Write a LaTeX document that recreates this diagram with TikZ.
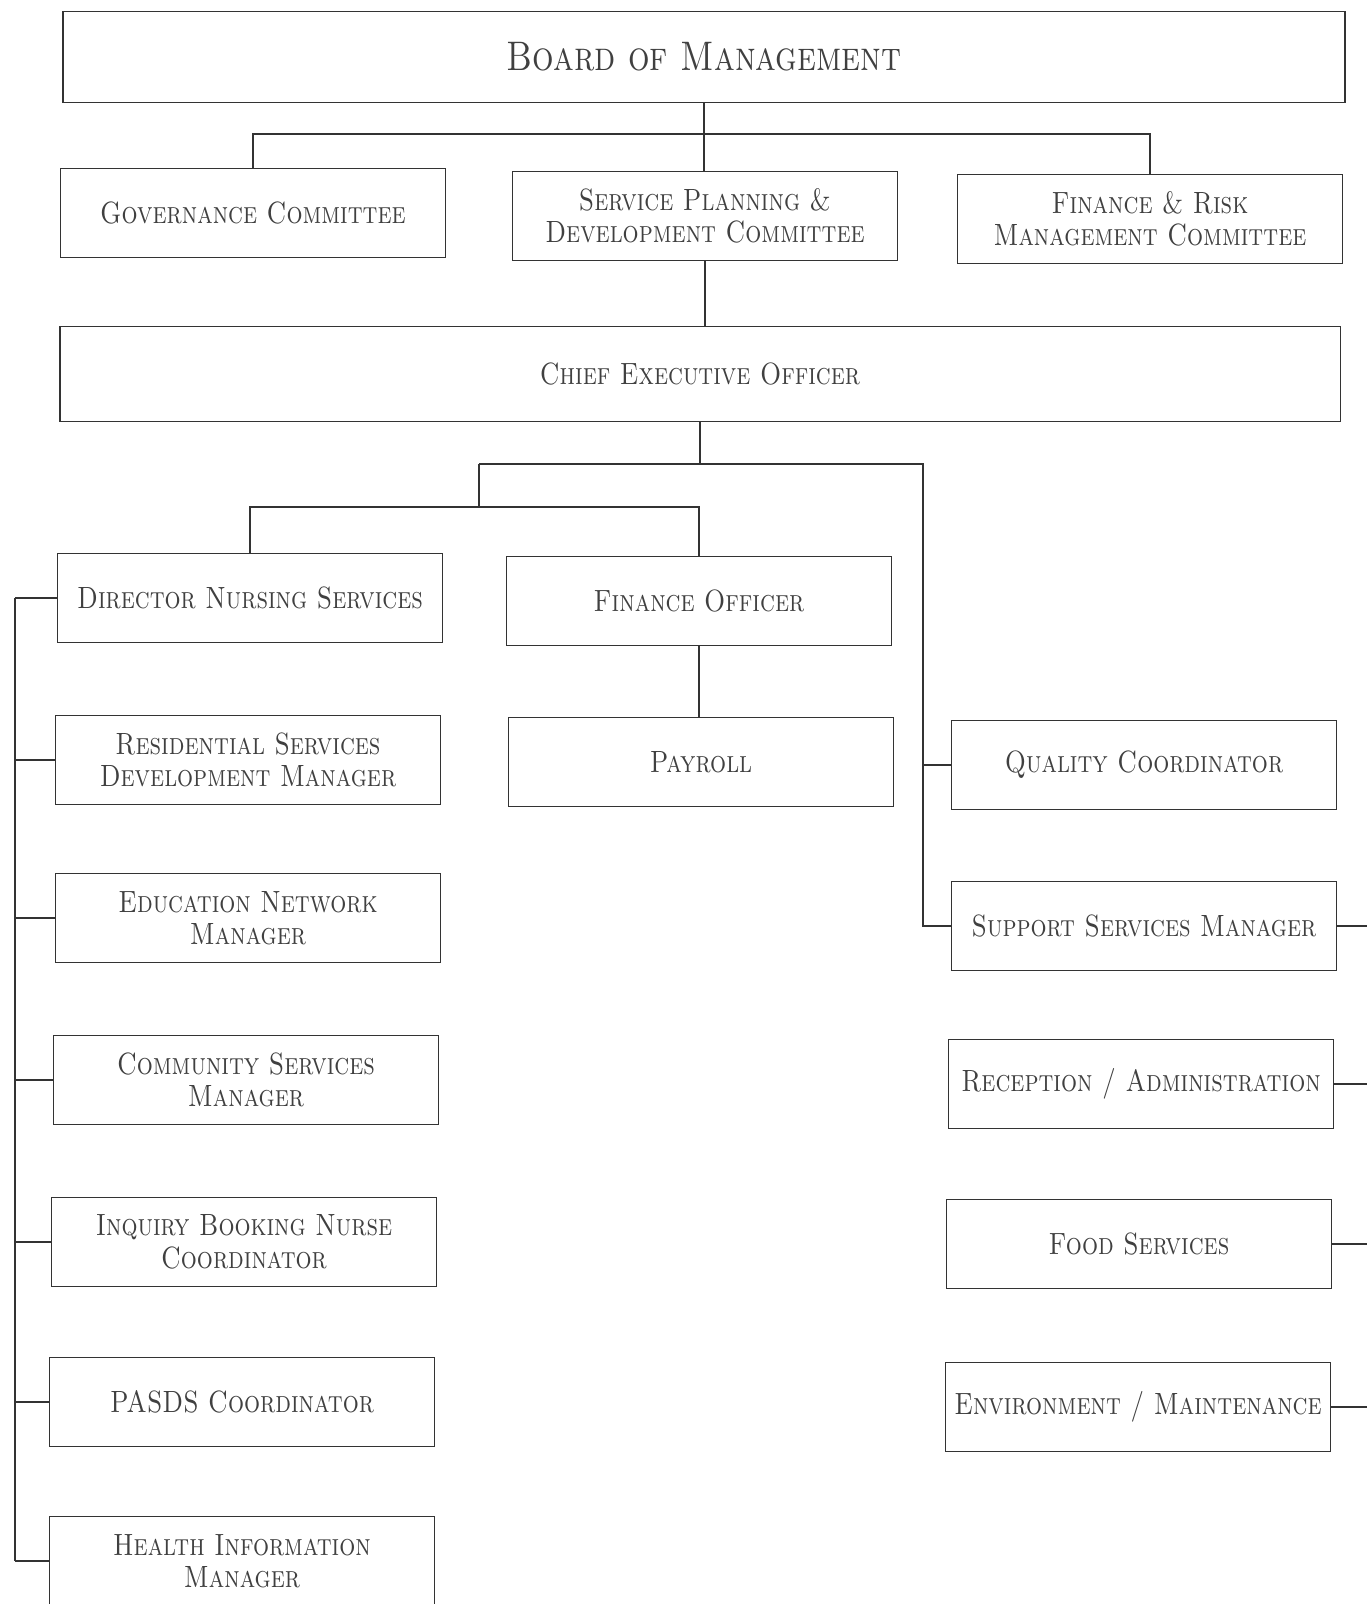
\documentclass[tikz,border=0pt]{standalone}
\usepackage{fontspec}
\newfontfamily\orgfont[FakeStretch=0.82,
	SmallCapsFont={Latin Modern Roman Caps},
	SmallCapsFeatures={FakeStretch=0.82}]{Latin Modern Roman}
\begin{document}
\begin{tikzpicture}[x=0.02cm,y=-0.02cm,
		unit/.style={draw=black!80, line width=1pt, fill=white, text=black!75, align=center,
			minimum width=7.7cm, minimum height=1.78cm, inner sep=0pt,
			font=\orgfont\fontsize{17.5}{18.5}\selectfont\scshape},
		wide/.style={unit, minimum width=25.65cm, minimum height=1.85cm},
		link/.style={draw=black!80, line width=0.8pt}]
		\useasboundingbox (0,0) rectangle (1367,1604);

		% board and committees
		\node[wide, minimum height=1.82cm, font=\orgfont\fontsize{23.5}{26}\selectfont\scshape] (board) at (704,57) {Board of Management};
		\node[unit] (gov) at (253,213) {Governance Committee};
		\node[unit] (spd) at (705,216) {Service Planning \&\\Development Committee};
		\node[unit] (frm) at (1150,219) {Finance \& Risk\\Management Committee};
		\node[wide, minimum width=25.62cm, minimum height=1.9cm] (ceo) at (700,374) {Chief Executive Officer};

		% finance
		\node[unit] (fo) at (699,601) {Finance Officer};
		\node[unit] (pay) at (701,762) {Payroll};

		% nursing side
		\foreach \name/\x/\y/\label in {
				dns/250/598/{Director Nursing Services},
				res/248/760/{Residential Services\\Development Manager},
				edu/248/918/{Education Network\\Manager},
				com/246/1080/{Community Services\\Manager},
				inq/244/1242/{Inquiry Booking Nurse\\Coordinator},
				pas/242/1402/{PASDS Coordinator},
				hea/242/1561/{Health Information\\Manager}} {
				\node[unit] (\name) at (\x,\y) {\label};
			}

		% support side
		\foreach \name/\x/\y/\label in {
				qc/1144/765/{Quality Coordinator},
				ssm/1144/926/{Support Services Manager},
				rec/1141/1084/{Reception / Administration},
				food/1139/1244/{Food Services},
				env/1138/1407/{Environment / Maintenance}} {
				\node[unit] (\name) at (\x,\y) {\label};
			}

		% connectors
		\coordinate (cbus) at (704,134);
		\coordinate (ma) at (479,464);
		\coordinate (mb) at (923,464);
		\coordinate (lb) at (479,507);
		\coordinate (spine) at (15,598);
		\coordinate (edge) at (1367,0);

		\draw[link] (board.south) -- (board.south |- spd.north);
		\draw[link] (gov.north) |- (cbus) -| (frm.north);
		\draw[link] (spd.south) -- (spd.south |- ceo.north);
		\draw[link] (ceo.south) |- (ma) -- (mb) |- (ssm.west);
		\draw[link] (qc.west) -- (qc.west -| mb);
		\draw[link] (ma) -- (lb);
		\draw[link] (dns.north) |- (lb) -| (fo.north);
		\draw[link] (fo.south) -- (fo.south |- pay.north);

		\draw[link] (spine) -- (spine |- hea.west);
		\foreach \name in {dns,res,edu,com,inq,pas,hea}
		\draw[link] (\name.west) -- (\name.west -| spine);

		\draw[link, line width=1.6pt] (ssm.east) -- (ssm.east -| edge);
		\foreach \name in {rec,food,env}
		\draw[link] (\name.east) -- (\name.east -| edge);
	\end{tikzpicture}
\end{document}
